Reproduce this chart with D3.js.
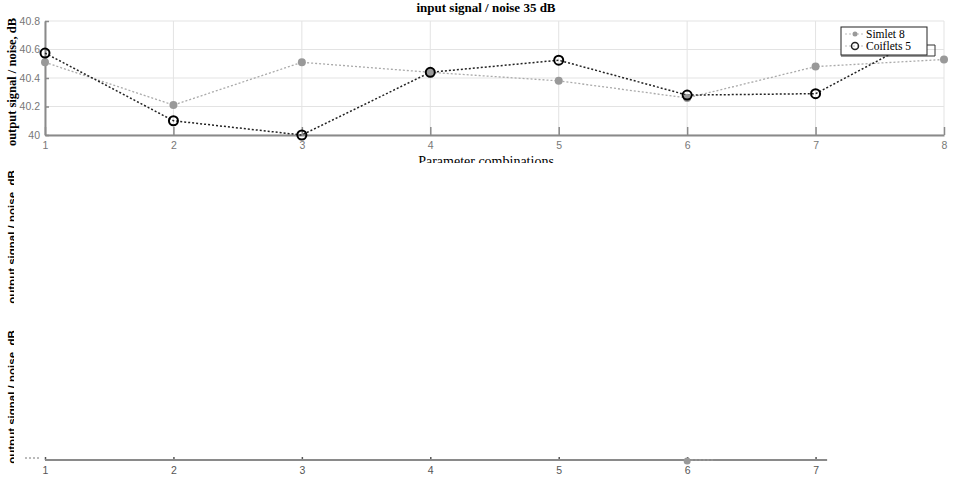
<!DOCTYPE html>
<html><head><meta charset="utf-8">
<script src="https://cdn.jsdelivr.net/npm/d3@7"></script>
<style>body{margin:0;background:#fff}svg{display:block}</style>
</head><body>
<script>
const categories = [1,2,3,4,5,6,7,8];
const simletValues = [40.51,40.21,40.51,40.44,40.38,40.26,40.48,40.53];
const coifletX = [1,2,3,4,5,6,7,7.65];
const coifletValues = [40.575,40.10,40.00,40.44,40.525,40.28,40.29,40.60];
const yTicks = [40,40.2,40.4,40.6,40.8];
const yTickLabels = ["40","40.2","40.4","40.6","40.8"];
const bottomTicks = [1,2,3,4,5,6,7];
const title = "input signal / noise 35 dB";
const yLabel = "output signal / noise, dB";
const xLabel = "Parameter combinations";
const legendNames = ["Simlet 8","Coiflets 5"];

const W=953,H=480;
const svg=d3.select("body").append("svg").attr("width",W).attr("height",H);
const defs=svg.append("defs");

const x=d3.scaleLinear().domain([1,8]).range([45,944]);
const y=d3.scaleLinear().domain([40,40.8]).range([135,21]);

// gridlines
const g=svg.append("g");
g.selectAll(".gx").data(categories).join("line")
 .attr("x1",d=>x(d)).attr("x2",d=>x(d)).attr("y1",21).attr("y2",135)
 .attr("stroke","#e3e3e3").attr("stroke-width",1);
g.selectAll(".gy").data(yTicks).join("line")
 .attr("x1",45).attr("x2",944).attr("y1",d=>y(d)).attr("y2",d=>y(d))
 .attr("stroke","#e3e3e3").attr("stroke-width",1);

// axes
const xAxis=d3.axisBottom(x).tickValues(categories).tickFormat(d3.format("d")).tickSizeInner(-8).tickSizeOuter(0).tickPadding(7);
const xa=svg.append("g").attr("transform","translate(0,135)").call(xAxis);
const yAxis=d3.axisLeft(y).tickValues(yTicks).tickFormat((d,i)=>yTickLabels[i]).tickSizeInner(-4).tickSizeOuter(0).tickPadding(5);
const ya=svg.append("g").attr("transform","translate(45,0)").call(yAxis);
[xa,ya].forEach(a=>{
  a.select(".domain").attr("stroke","#8a8a8a").attr("stroke-width",2);
  a.selectAll(".tick line").attr("stroke","#8a8a8a").attr("stroke-width",1.5);
  a.selectAll(".tick text").attr("fill","#777").style("font-family","Liberation Sans, Arial, sans-serif").style("font-size","10.5px");
});

// series
const line=d3.line();
const sPts=categories.map((c,i)=>[x(c),y(simletValues[i])]);
const cPts=coifletX.map((c,i)=>[x(c),y(coifletValues[i])]);
svg.append("path").attr("d",line(sPts)).attr("fill","none").attr("stroke","#aaa").attr("stroke-width",1.3).attr("stroke-dasharray","2,2");
svg.append("path").attr("d",line(cPts)).attr("fill","none").attr("stroke","#222").attr("stroke-width",1.5).attr("stroke-dasharray","2,2");
svg.selectAll(".sm").data(sPts).join("circle").attr("cx",d=>d[0]).attr("cy",d=>d[1]).attr("r",4).attr("fill","#999");
svg.selectAll(".cm").data(cPts).join("circle").attr("cx",d=>d[0]).attr("cy",d=>d[1]).attr("r",4.5).attr("fill","none").attr("stroke","#000").attr("stroke-width",2);

// title and labels
svg.append("text").attr("x",486).attr("y",12).attr("text-anchor","middle")
 .style("font-family","Liberation Serif, Times New Roman, serif").style("font-weight","bold").style("font-size","13px").text(title);
defs.append("clipPath").attr("id","xlclip").append("rect").attr("x",0).attr("y",0).attr("width",W).attr("height",163);
svg.append("g").attr("clip-path","url(#xlclip)").append("text").attr("x",486).attr("y",166).attr("text-anchor","middle")
 .style("font-family","Liberation Serif, Times New Roman, serif").style("font-size","14px").text(xLabel);
svg.append("text").attr("transform","translate(16,82) rotate(-90)").attr("text-anchor","middle")
 .style("font-family","Liberation Serif, Times New Roman, serif").style("font-weight","bold").style("font-size","12.5px").text(yLabel);

// clipped labels of lower panels
defs.append("clipPath").attr("id","ylclip").append("rect").attr("x",0).attr("y",0).attr("width",14).attr("height",H);
[237,397].forEach(cy=>{
  svg.append("g").attr("clip-path","url(#ylclip)").append("text")
   .attr("transform",`translate(16,${cy}) rotate(-90)`).attr("text-anchor","middle")
   .style("font-family","Liberation Sans, Arial, sans-serif").style("font-weight","bold").style("font-size","11.5px").text(yLabel);
});

// bottom axis of lower panel
const x2=d3.scaleLinear().domain([1,8]).range([45,944]);
const bAxis=d3.axisBottom(x2).tickValues(bottomTicks).tickFormat(d3.format("d")).tickSizeInner(-3).tickSizeOuter(0).tickPadding(7);
const ba=svg.append("g").attr("transform","translate(0,460)").call(bAxis);
ba.select(".domain").remove();
ba.append("line").attr("x1",x2(1)).attr("x2",x2(7.09)).attr("y1",0).attr("y2",0).attr("stroke","#8a8a8a").attr("stroke-width",2);
ba.selectAll(".tick line").attr("stroke","#555").attr("stroke-width",1.5);
ba.selectAll(".tick text").attr("fill","#555").style("font-family","Liberation Sans, Arial, sans-serif").style("font-size","10.5px");
// fragments
svg.append("line").attr("x1",25).attr("x2",41).attr("y1",458).attr("y2",458).attr("stroke","#777").attr("stroke-dasharray","2,2");
svg.append("line").attr("x1",x2(6)).attr("x2",x2(6)+28).attr("y1",460).attr("y2",460).attr("stroke","#999").attr("stroke-width",1.5).attr("stroke-dasharray","2,2");
svg.append("circle").attr("cx",x2(6)).attr("cy",461).attr("r",3.5).attr("fill","#999");

// legend
const lg=svg.append("g");
lg.append("rect").attr("x",841).attr("y",27).attr("width",86).attr("height",28).attr("fill","#fff").attr("stroke","#222").attr("stroke-width",1);
lg.append("polyline").attr("points","927,45 935,45 935,56 841,56").attr("fill","none").attr("stroke","#333").attr("stroke-width",1);
lg.append("line").attr("x1",845).attr("x2",865).attr("y1",34).attr("y2",34).attr("stroke","#bbb").attr("stroke-dasharray","2,2");
lg.append("circle").attr("cx",855).attr("cy",34).attr("r",2.5).attr("fill","#999");
lg.append("line").attr("x1",845).attr("x2",865).attr("y1",46).attr("y2",46).attr("stroke","#bbb").attr("stroke-dasharray","2,2");
lg.append("circle").attr("cx",855).attr("cy",46).attr("r",3.5).attr("fill","none").attr("stroke","#222").attr("stroke-width",1.5);
lg.selectAll(".lt").data(legendNames).join("text").attr("x",866).attr("y",(d,i)=>37.5+i*12)
 .style("font-family","Liberation Serif, Times New Roman, serif").style("font-size","11.5px").text(d=>d);
</script>
</body></html>
